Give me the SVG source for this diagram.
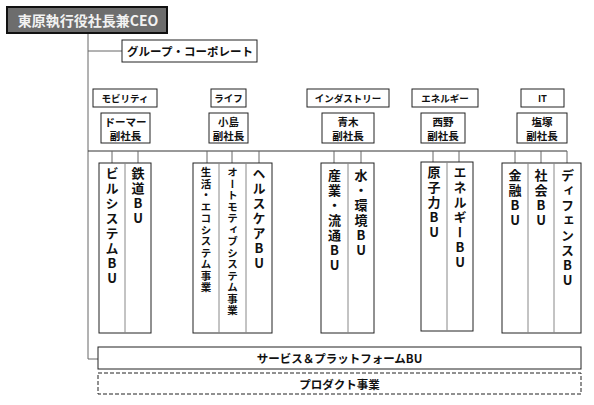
<svg xmlns="http://www.w3.org/2000/svg" width="594" height="405" viewBox="0 0 594 405">
<style>
text{font-family:"Noto Sans CJK JP","Noto Sans CJK SC",sans-serif;font-weight:bold;fill:#111}
.box{fill:#fff;stroke:#222;stroke-width:1}
.lbl{font-size:9.5px;text-anchor:middle;dominant-baseline:central}
.vp{font-size:10.5px;text-anchor:middle;dominant-baseline:central}
.v{writing-mode:vertical-rl;text-orientation:upright;font-size:13px;letter-spacing:2px}
.vs{writing-mode:vertical-rl;text-orientation:upright;font-size:10.5px;letter-spacing:1px}
.div{stroke:#888;stroke-width:1}
.ln{stroke:#666;stroke-width:1;fill:none}
</style>
<rect width="594" height="405" fill="#fff"/>
<g id="connectors">
<polyline class="ln" points="88,33 88,359 98,359"/>
<line class="ln" x1="88" y1="51" x2="122" y2="51"/>
<line class="ln" x1="88" y1="151" x2="567" y2="151" style="stroke:#333"/>
<line class="ln" x1="112" y1="151" x2="112" y2="163"/>
<line class="ln" x1="138" y1="151" x2="138" y2="163"/>
<line class="ln" x1="207" y1="151" x2="207" y2="163"/>
<line class="ln" x1="232" y1="151" x2="232" y2="163"/>
<line class="ln" x1="259" y1="151" x2="259" y2="163"/>
<line class="ln" x1="334" y1="151" x2="334" y2="163"/>
<line class="ln" x1="361" y1="151" x2="361" y2="163"/>
<line class="ln" x1="433" y1="151" x2="433" y2="162"/>
<line class="ln" x1="459" y1="151" x2="459" y2="162"/>
<line class="ln" x1="515" y1="151" x2="515" y2="163"/>
<line class="ln" x1="541" y1="151" x2="541" y2="163"/>
<line class="ln" x1="567" y1="151" x2="567" y2="163"/>
</g>
<g id="ceo">
<rect x="7" y="7" width="160" height="26" fill="#6d6d6d" stroke="#111" stroke-width="2"/>
<text x="88" y="20" style="font-size:14px;text-anchor:middle;dominant-baseline:central;fill:#f2f2f2">東原執行役社長兼CEO</text>
</g>
<g id="group-corporate">
<rect class="box" x="122" y="40" width="135" height="22"/>
<text x="190" y="51" style="font-size:11.5px;text-anchor:middle;dominant-baseline:central">グループ・コーポレート</text>
</g>
<g id="cat-mobility"><rect class="box" x="93" y="89" width="64" height="18"/><text class="lbl" x="125" y="98">モビリティ</text></g>
<g id="cat-life"><rect class="box" x="211" y="89" width="35" height="18"/><text class="lbl" x="228.5" y="98">ライフ</text></g>
<g id="cat-industry"><rect class="box" x="307" y="89" width="82" height="18"/><text class="lbl" x="348" y="98">インダストリー</text></g>
<g id="cat-energy"><rect class="box" x="412" y="89" width="66" height="18"/><text class="lbl" x="445" y="98">エネルギー</text></g>
<g id="cat-it"><rect class="box" x="521" y="89" width="43" height="18"/><text class="lbl" x="542.5" y="98">IT</text></g>
<g id="vp-dormer"><rect class="box" x="101" y="113" width="49" height="30"/><text class="vp" x="125.5" y="121.5">ドーマー</text><text class="vp" x="125.5" y="135">副社長</text></g>
<g id="vp-kojima"><rect class="box" x="209" y="113" width="39" height="30"/><text class="vp" x="228.5" y="121.5">小島</text><text class="vp" x="228.5" y="135">副社長</text></g>
<g id="vp-aoki"><rect class="box" x="322" y="113" width="52" height="30"/><text class="vp" x="348" y="121.5">青木</text><text class="vp" x="348" y="135">副社長</text></g>
<g id="vp-nishino"><rect class="box" x="421" y="113" width="44" height="30"/><text class="vp" x="443" y="121.5">西野</text><text class="vp" x="443" y="135">副社長</text></g>
<g id="vp-shiozuka"><rect class="box" x="517" y="113" width="50" height="30"/><text class="vp" x="542" y="121.5">塩塚</text><text class="vp" x="542" y="135">副社長</text></g>
<g id="bu-mobility">
<rect class="box" x="99" y="163" width="52" height="170"/>
<line class="div" x1="125" y1="163" x2="125" y2="333"/>
<text class="v" x="112" y="167">ビルシステムBU</text>
<text class="v" x="138" y="167">鉄道BU</text>
</g>
<g id="bu-life">
<rect class="box" x="193" y="163" width="79" height="170"/>
<line class="div" x1="219" y1="163" x2="219" y2="333"/>
<line class="div" x1="246" y1="163" x2="246" y2="333"/>
<text class="vs" x="206" y="167">生活・エコシステム事業</text>
<text class="vs" x="232.5" y="167">オートモティブシステム事業</text>
<text class="v" x="259" y="167">ヘルスケアBU</text>
</g>
<g id="bu-industry">
<rect class="box" x="321" y="163" width="53" height="170"/>
<line class="div" x1="348" y1="163" x2="348" y2="333"/>
<text class="v" x="334.5" y="169">産業・流通BU</text>
<text class="v" x="361" y="169">水・環境BU</text>
</g>
<g id="bu-energy">
<rect class="box" x="421" y="162" width="52" height="169"/>
<line class="div" x1="447" y1="162" x2="447" y2="331"/>
<text class="v" x="434" y="166">原子力BU</text>
<text class="v" x="460" y="166">エネルギーBU</text>
</g>
<g id="bu-it">
<rect class="box" x="502" y="163" width="79" height="170"/>
<line class="div" x1="528" y1="163" x2="528" y2="333"/>
<line class="div" x1="554" y1="163" x2="554" y2="333"/>
<text class="v" x="515" y="169">金融BU</text>
<text class="v" x="541" y="169">社会BU</text>
<text class="v" x="567.5" y="169">ディフェンスBU</text>
</g>
<g id="service-platform">
<rect class="box" x="98" y="347" width="483" height="22"/>
<text x="339.5" y="358" style="font-size:11.5px;text-anchor:middle;dominant-baseline:central">サービス＆プラットフォームBU</text>
</g>
<g id="product">
<rect x="98" y="373" width="483" height="21" fill="#fff" stroke="#222" stroke-width="1" stroke-dasharray="4,2"/>
<text x="339.5" y="383.5" style="font-size:11.5px;text-anchor:middle;dominant-baseline:central">プロダクト事業</text>
</g>
</svg>
